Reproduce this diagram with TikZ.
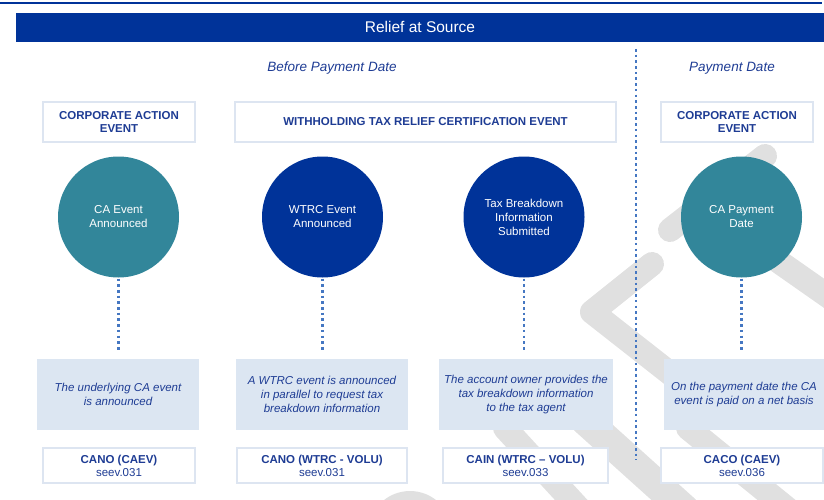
\documentclass[tikz,border=0pt]{standalone}
\usepackage{fontspec}
\setmainfont{Liberation Sans}
\definecolor{navy}{HTML}{003399}
\definecolor{cateal}{HTML}{32869A}
\definecolor{txtblue}{HTML}{1E3C94}
\definecolor{dotblue}{HTML}{4577C2}
\definecolor{descfill}{HTML}{DCE6F2}
\definecolor{boxline}{HTML}{DDE5F1}
\definecolor{wm}{HTML}{E0E0E0}
\begin{document}
\begin{tikzpicture}[x=1pt,y=-1pt,
  every node/.style={inner sep=0pt,outer sep=0pt},
  titlebox/.style={draw=boxline,line width=1.5pt,fill=white,minimum height=40pt,align=center,
    font=\fontsize{11.5}{13.5}\selectfont\bfseries,text=txtblue},
  evcircle/.style={circle,minimum size=121pt,align=center,text=white,
    font=\fontsize{11.5}{14}\selectfont},
  descbox/.style={fill=descfill,minimum height=71pt,align=center,
    font=\fontsize{11.5}{14}\selectfont\itshape,text=txtblue},
  msgbox/.style={draw=boxline,line width=1.5pt,fill=white,minimum height=35pt,align=center,
    font=\fontsize{11.5}{13}\selectfont,text=txtblue},
  dotline/.style={draw=dotblue,line width=2.6pt,dash pattern=on 2.6pt off 3.1pt},
  wmark/.style={draw=wm,line width=24pt,line cap=round,line join=round},
  phase/.style={font=\fontsize{13.5}{16}\selectfont\itshape,text=txtblue}
]
\useasboundingbox (0,0) rectangle (824,500);
% watermark
\draw[wmark] (765,156) -- (670,230);
\draw[wmark] (748,240) -- (845,308);
\draw[wmark] (652,264) -- (592,312) -- (685,385);
\draw[wmark] (505,428) -- (585,515);
\draw[wmark,line width=30pt] (585,420) -- (685,510);
\draw[wmark] (688,428) -- (795,515);
\fill[wm] (410,533) circle (42);
% top rule and header
\coordinate (tl) at (0,3);
\coordinate (tr) at (822,3);
\draw[navy,line width=1.5pt] (tl) -- (tr);
\node[fill=navy,minimum width=808pt,minimum height=29pt,text=white,
  font=\fontsize{15.5}{18}\selectfont] (hdr) at (420,27.5) {\raisebox{1.5pt}{Relief at Source}};
% phases
\node[phase] (bpd) at (332,68) {Before Payment Date};
\node[phase] (pd) at (732,68) {Payment Date};
\coordinate (vtop) at (636,49);
\coordinate (vbot) at (636,460);
\draw[dotline] (vtop) -- (vbot);
% title boxes
\node[titlebox,minimum width=152pt] (t1) at (119,122) {CORPORATE ACTION\\EVENT};
\node[titlebox,minimum width=381pt] (t2) at (425.5,122) {WITHHOLDING TAX RELIEF CERTIFICATION EVENT};
\node[titlebox,minimum width=152pt] (t3) at (737,122) {CORPORATE ACTION\\EVENT};
% circles
\node[evcircle,fill=cateal] (c1) at (118.5,217) {CA Event\\Announced};
\node[evcircle,fill=navy] (c2) at (322.5,217) {WTRC Event\\Announced};
\node[evcircle,fill=navy] (c3) at (524,217) {Tax Breakdown\\Information\\Submitted};
\node[evcircle,fill=cateal] (c4) at (741.5,217) {CA Payment\\Date};
% description boxes
\node[descbox,minimum width=162pt] (d1) at (118,394.5) {The underlying CA event\\is announced};
\node[descbox,minimum width=172pt] (d2) at (322,394.5) {A WTRC event is announced\\in parallel to request tax\\breakdown information};
\node[descbox,minimum width=174pt] (d3) at (526,394.5) {The account owner provides the\\tax breakdown information\\to the tax agent};
\node[descbox,minimum width=160pt] (d4) at (744,394.5) {On the payment date the CA\\event is paid on a net basis};
% connectors
\draw[dotline,shorten <=1pt,shorten >=8pt] (c1.south) -- (c1.south |- d1.north);
\draw[dotline,shorten <=1pt,shorten >=8pt] (c2.south) -- (c2.south |- d2.north);
\draw[dotline,shorten <=1pt,shorten >=8pt] (c3.south) -- (c3.south |- d3.north);
\draw[dotline,shorten <=1pt,shorten >=8pt] (c4.south) -- (c4.south |- d4.north);
% message boxes
\node[msgbox,minimum width=152pt] (m1) at (119,465.5) {\textbf{CANO (CAEV)}\\seev.031};
\node[msgbox,minimum width=170pt] (m2) at (322,465.5) {\textbf{CANO (WTRC - VOLU)}\\seev.031};
\node[msgbox,minimum width=165pt] (m3) at (525.5,465.5) {\textbf{CAIN (WTRC – VOLU)}\\seev.033};
\node[msgbox,minimum width=162pt] (m4) at (742,465.5) {\textbf{CACO (CAEV)}\\seev.036};
\end{tikzpicture}
\end{document}
